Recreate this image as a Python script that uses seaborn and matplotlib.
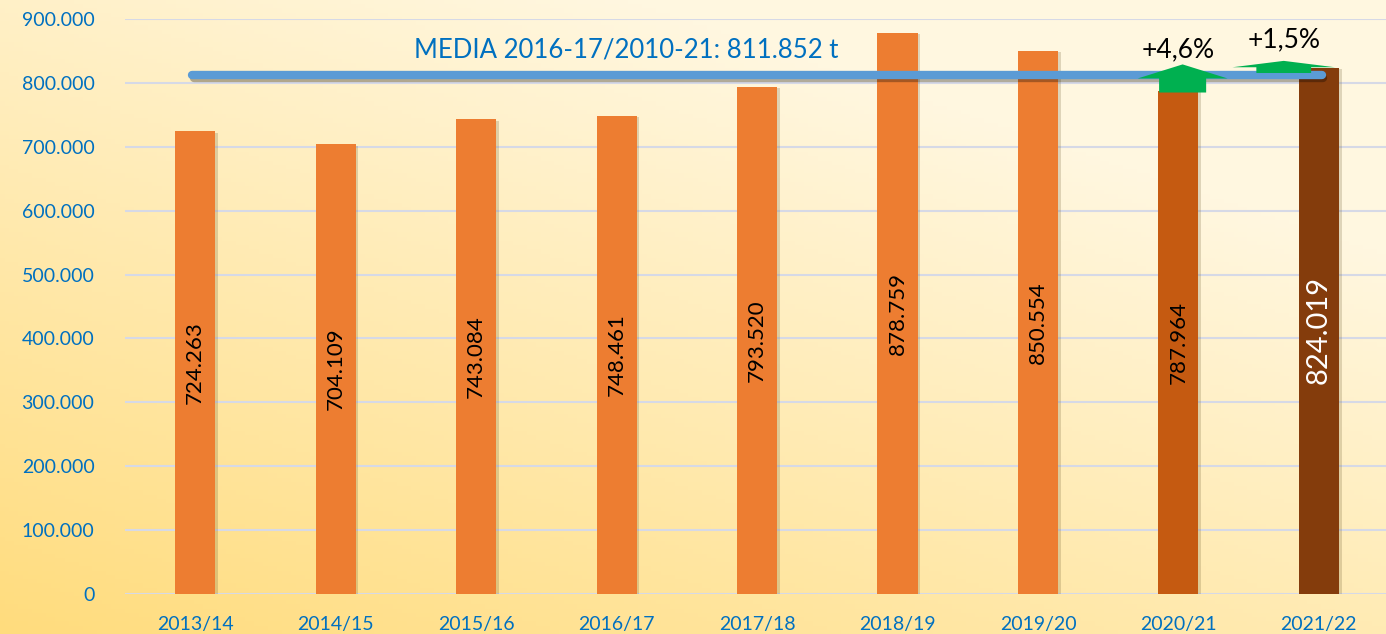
import numpy as np
import pandas as pd
import matplotlib
matplotlib.use("Agg")
import matplotlib.pyplot as plt
import matplotlib.patheffects as pe
import seaborn as sns

# Data
campaigns = ["2013/14", "2014/15", "2015/16", "2016/17", "2017/18",
             "2018/19", "2019/20", "2020/21", "2021/22"]
tonnes = [724263, 704109, 743084, 748461, 793520, 878759, 850554, 787964, 824019]
bar_colors = ["#ED7D31"] * 7 + ["#C55A11", "#843C0C"]
value_labels = ["724.263", "704.109", "743.084", "748.461", "793.520",
                "878.759", "850.554", "787.964", "824.019"]
mean_value = 811852
mean_label = "MEDIA 2016-17/2010-21: 811.852 t"
change_labels = ["+4,6%", "+1,5%"]
yticks = [0, 100000, 200000, 300000, 400000, 500000, 600000, 700000, 800000, 900000]
ytick_labels = ["0", "100.000", "200.000", "300.000", "400.000",
                "500.000", "600.000", "700.000", "800.000", "900.000"]

df = pd.DataFrame({"campaign": campaigns, "tonnes": tonnes})

sns.set_style("white")
plt.rcParams["font.family"] = ["Lato", "DejaVu Sans"]

fig = plt.figure(figsize=(13.86, 6.34), dpi=100)

# gradient background (yellow bottom-left to pale cream top-right)
bg = fig.add_axes([0, 0, 1, 1], zorder=-10)
xx, yy = np.meshgrid(np.linspace(0, 1, 300), np.linspace(0, 1, 150))
t = np.clip(0.55 * xx + 0.75 * yy, 0, 1)
c0 = np.array([255, 220, 125]) / 255
c1 = np.array([255, 247, 224]) / 255
img = c0[None, None, :] * (1 - t[..., None]) + c1[None, None, :] * t[..., None]
bg.imshow(img, origin="lower", aspect="auto", extent=[0, 1, 0, 1])
bg.axis("off")

ax = fig.add_axes([0.0902, 0.063, 0.91, 0.907])
ax.patch.set_alpha(0)

sns.barplot(data=df, x="campaign", y="tonnes", hue="campaign",
            palette=bar_colors, width=0.285, legend=False, ax=ax,
            saturation=1, linewidth=0, zorder=3)
for p in ax.patches:
    p.set_linewidth(0)
    p.set_path_effects([pe.SimplePatchShadow(offset=(2, -1), shadow_rgbFace="#6b5a30", alpha=0.22),
                        pe.Normal()])

ax.set_ylim(0, 900000)
ax.set_xlim(-0.5, 8.48)
ax.set_yticks(yticks)
ax.set_yticklabels(ytick_labels)
ax.yaxis.grid(True, color="#D6D9E6", linewidth=1.5, zorder=0)
ax.set_axisbelow(True)
for s in ax.spines.values():
    s.set_visible(False)
ax.tick_params(axis="both", length=0, labelcolor="#0070C0", labelsize=14)
ax.tick_params(axis="y", pad=22)
ax.tick_params(axis="x", pad=16)
ax.set_xlabel("")
ax.set_ylabel("")

# value labels inside the bars
for i, (v, lab) in enumerate(zip(tonnes, value_labels)):
    if i == len(tonnes) - 1:
        ax.text(i, v / 2 + 1000, lab, rotation=90, ha="center", va="center",
                fontsize=21, color="white", zorder=5)
    else:
        ax.text(i, v / 2, lab, rotation=90, ha="center", va="center",
                fontsize=16, color="black", zorder=5)

# mean line
ax.plot([-0.02, 8.02], [mean_value, mean_value], color="#5B9BD5", linewidth=6,
        solid_capstyle="round", zorder=4,
        path_effects=[pe.SimpleLineShadow(offset=(1, -2), alpha=0.3), pe.Normal()])
ax.text(3.07, 851000, mean_label, ha="center", va="center", fontsize=18.5,
        color="#0070C0", zorder=5)

# green growth arrows
ax.arrow(7.03, tonnes[7] - 3000, 0, 22000, width=0.335, head_width=0.64,
         head_length=22000, length_includes_head=False, color="#00B050",
         linewidth=0, zorder=6)
ax.arrow(7.75, 815500, 0, 9000, width=0.39, head_width=0.73,
         head_length=10000, length_includes_head=False, color="#00B050",
         linewidth=0, zorder=6)
ax.text(7.0, 852000, change_labels[0], ha="center", va="center", fontsize=19,
        color="black", zorder=7)
ax.text(7.75, 867000, change_labels[1], ha="center", va="center", fontsize=19,
        color="black", zorder=7)

fig.savefig("out.png", dpi=100)
